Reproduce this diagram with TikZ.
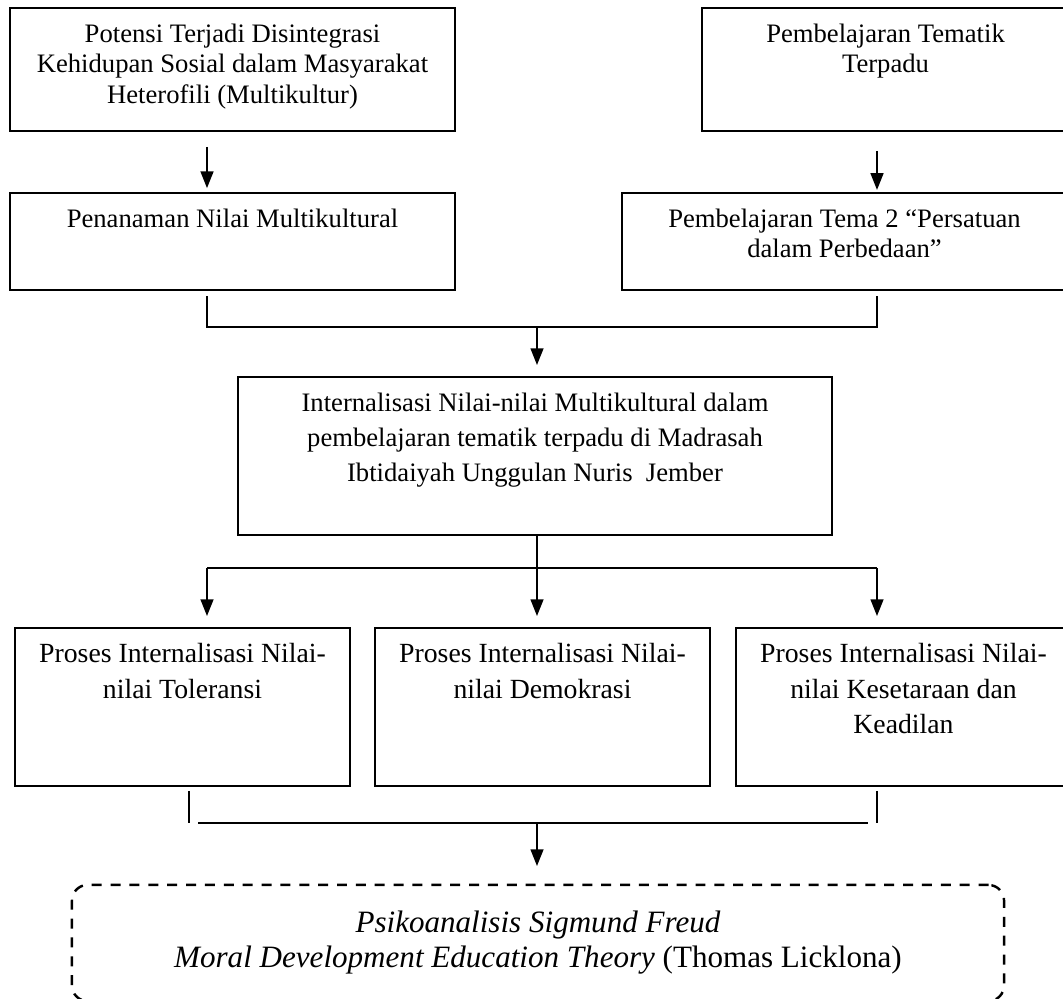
\documentclass[tikz,border=0pt]{standalone}
\usepackage{fontspec}
\setmainfont{Liberation Serif}
\usetikzlibrary{arrows.meta}

% text block that sits at the top of a box
\newcommand{\toplines}[3]{\parbox[t][#2][t]{#1}{\centering #3}}

\begin{document}
\begin{tikzpicture} [x=0.4505pt, y=-0.4505pt,
            flowbox/.style = {draw, line width=0.8pt,
                inner xsep=0pt, inner ysep=7pt,
                font=\fontsize{12}{13.8}\selectfont},
            procbox/.style = {flowbox,
                font=\fontsize{12.5}{16}\selectfont},
            theorybox/.style = {draw, line width=1.1pt,
                dash pattern=on 4.5pt off 4pt,
                rounded corners=7pt,
                align=center,
                minimum width=419.9pt,
                minimum height=52.3pt,
                font=\fontsize{14}{15.8}\selectfont},
            link/.style = {line width=0.65pt},
            arrow/.style = {line width=0.75pt,
                -{Triangle[width=5.8pt, length=7.5pt]}}]

            \useasboundingbox (0,0) rectangle (1063,998);

            % Columns of the connectors
            \coordinate (colL) at (207,0);
            \coordinate (colM) at (537,0);
            \coordinate (colR) at (877,0);

            % Potensi disintegrasi
            \node (potensi) [flowbox] at (232.5,69.5)
                {\toplines{200.5pt}{41.4pt}{Potensi Terjadi Disintegrasi\\
                Kehidupan Sosial dalam Masyarakat\\
                Heterofili (Multikultur)}};

            % Pembelajaran tematik
            \node (tematik) [flowbox] at (885.5,69.5)
                {\toplines{165.3pt}{41.4pt}{Pembelajaran Tematik\\ Terpadu}};

            % Penanaman nilai
            \node (penanaman) [flowbox] at (232.5,241.5)
                {\toplines{200.5pt}{29.7pt}{Penanaman Nilai Multikultural}};

            % Tema 2
            \node (tema) [flowbox] at (844.5,241.5)
                {\toplines{200.5pt}{29.7pt}{Pembelajaran Tema 2 “Persatuan\\
                dalam Perbedaan”}};

            % Internalisasi
            \node (internal) [flowbox,
                font=\fontsize{12}{15.8}\selectfont] at (535,456)
                {\toplines{267.6pt}{57.2pt}{Internalisasi Nilai-nilai Multikultural dalam\\
                pembelajaran tematik terpadu di Madrasah\\
                Ibtidaiyah Unggulan Nuris\ \ Jember}};

            % Proses toleransi
            \node (toleransi) [procbox] at (182.5,707)
                {\toplines{150.9pt}{57.2pt}{Proses Internalisasi Nilai-\\ nilai Toleransi}};

            % Proses demokrasi
            \node (demokrasi) [procbox] at (542.5,707)
                {\toplines{150.9pt}{57.2pt}{Proses Internalisasi Nilai-\\ nilai Demokrasi}};

            % Proses kesetaraan
            \node (kesetaraan) [procbox] at (903.5,707)
                {\toplines{150.9pt}{57.2pt}{Proses Internalisasi Nilai-\\
                nilai Kesetaraan dan\\ Keadilan}};

            % Teori
            \node (teori) [theorybox] at (538,943)
                {\textit{Psikoanalisis Sigmund Freud}\\
                \textit{Moral Development Education Theory} (Thomas Licklona)};

            % Arrows of the top row
            \path [arrow]
                (potensi.south -| colL) edge [shorten <=6.8pt, shorten >=1.8pt] (penanaman.north -| colL)
                (tematik.south -| colR) edge [shorten <=8.6pt, shorten >=1pt]   (tema.north -| colR);

            % Joining to the internalisasi box
            \coordinate (joinTop) at (537,327);
            \draw [link, shorten <=2.3pt, shorten >=2.3pt]
                (penanaman.south -| colL) |- (joinTop) -| (tema.south -| colR);
            \path [arrow] (joinTop) edge [shorten >=5pt] (internal.north -| colM);

            % Splitting to the three processes
            \coordinate (joinMid) at (537,568);
            \draw [link] (internal.south -| colM) -- (joinMid);
            \draw [link] (joinMid -| colL) -- (joinMid -| colR);
            \foreach \proc/\col in {toleransi/colL, demokrasi/colM, kesetaraan/colR}
                \path [arrow] (joinMid -| \col) edge [shorten >=5pt] (\proc.north -| \col);

            % Joining to the theory box
            \coordinate (joinLow) at (537,823);
            \draw [link, shorten <=1.8pt]
                ([xshift=3pt]toleransi.south) -- ([xshift=3pt]toleransi.south |- joinLow);
            \draw [link, shorten <=1.8pt] (kesetaraan.south -| colR) -- (joinLow -| colR);
            \draw [link] ([xshift=7pt]joinLow -| toleransi.south) -- ([xshift=-4pt]joinLow -| colR);
            \path [arrow] (joinLow) edge [shorten >=8pt] (teori.north -| colM);
        \end{tikzpicture}
\end{document}
